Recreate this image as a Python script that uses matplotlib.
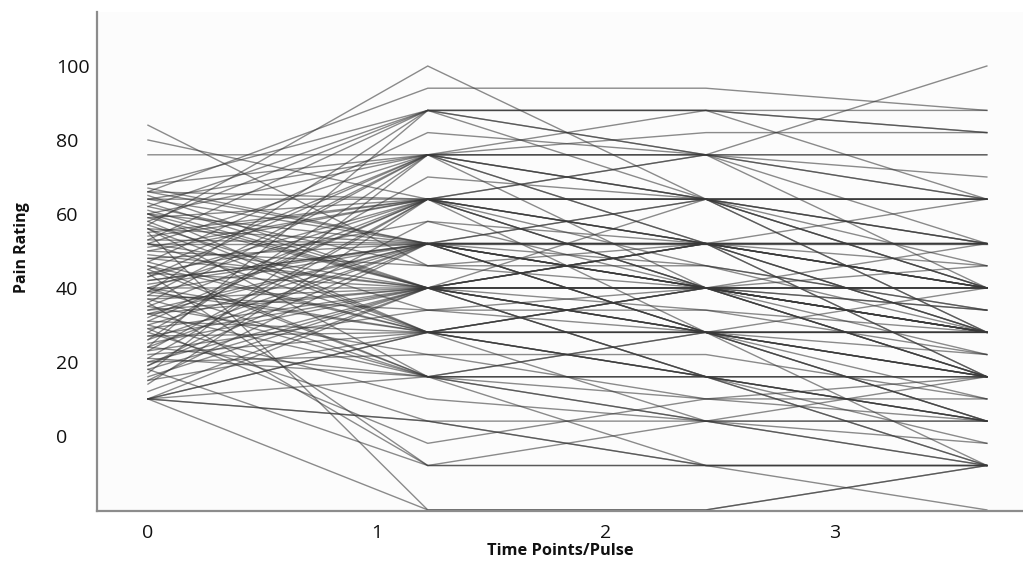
import matplotlib
matplotlib.use("Agg")
import matplotlib.pyplot as plt

# pain rating of each subject at the four time points (one entry per subject)
PAIN_T0 = [84, 80, 76, 68, 68, 67, 66, 66, 64, 64,
           64, 63, 62, 60, 60, 60, 59, 59, 57, 56,
           56, 55, 55, 53, 52, 52, 52, 52, 50, 50,
           48, 48, 47, 46, 44, 44, 44, 43, 43, 41,
           40, 40, 40, 40, 39, 39, 38, 37, 36, 36,
           35, 34, 33, 33, 32, 31, 30, 30, 29, 28,
           28, 27, 26, 25, 24, 24, 23, 23, 22, 21,
           20, 19, 19, 18, 17, 16, 15, 14, 10, 10,
           10, 10, 10, 10, 65, 58, 54, 49, 45, 42,
           38, 34, 31, 26, 20, 62, 57, 47, 35, 12,
           29, 45, 53, 61, 37, 66, 60, 56, 51, 46,
           42, 39, 33, 27, 24, 21, 18, 15, 10, 58]
PAIN_T1 = [46, 64, 76, 88, 76, 52, 94, 64, 76, 64,
           52, 40, 88, 76, 52, 28, 64, 40, 100, 52,
           16, -20, 64, 52, 52, 40, 76, 28, 46, 64,
           40, 52, 82, 28, 40, 58, -8, 64, 76, 52,
           40, 28, 64, 16, 52, 88, 34, 40, -8, 76,
           22, 52, 40, 16, 64, 28, 10, 52, 40, 70,
           4, 28, 76, 40, 88, 52, 34, 64, 28, 16,
           40, 52, 58, -8, 76, 40, 28, 64, 4, 4,
           -20, 16, 40, 28, 40, 28, 64, 40, 16, 52,
           76, 40, 64, 52, 22, 46, 34, 28, 64, 40,
           -2, 76, 88, 40, 16, 52, 40, 28, 64, 16,
           52, 28, 52, 40, 16, 64, 40, 52, 28, 88]
PAIN_T2 = [40, 52, 76, 88, 82, 40, 94, 64, 64, 52,
           52, 28, 88, 76, 40, 28, 64, 40, 64, 52,
           4, -20, 40, 28, 52, 40, 64, 16, 46, 76,
           28, 40, 76, 16, 40, 52, -8, 52, 88, 64,
           52, 28, 64, 16, 28, 76, 34, 16, -8, 52,
           22, 40, 28, 28, 40, 40, 4, 52, 40, 64,
           -8, 16, 40, 52, 64, 28, 28, 28, 4, 16,
           16, 64, 40, 4, 52, 64, 40, 46, 4, -8,
           -20, 10, 28, 16, 16, 40, 76, 52, 28, 46,
           64, 34, 52, 40, 10, 52, 40, 28, 64, 40,
           10, 76, 76, 52, -8, 52, 40, 28, 64, 16,
           28, 40, 40, 52, 4, 40, 28, 52, 28, 88]
PAIN_T3 = [28, 40, 70, 88, 82, 28, 88, 64, 52, 40,
           52, 16, 82, 64, 40, 16, 52, 28, 40, 40,
           -8, -8, 28, 16, 52, 40, 64, 4, 34, 100,
           28, 16, 52, 16, 40, 46, -8, 28, 82, 64,
           64, 28, 40, 4, 4, 64, 22, -8, -20, 40,
           10, 28, 16, 40, 16, 52, -8, 28, 16, 52,
           -8, -8, 16, 40, 28, 28, 4, -8, -2, 16,
           4, 46, 22, 16, 28, 40, 28, 34, 4, -8,
           -8, 4, 10, -2, 16, 34, 76, 52, 22, 28,
           64, 28, 52, 34, 10, 40, 46, 4, 28, 40,
           16, 40, 76, 16, -8, 52, 40, 28, 64, 4,
           28, 28, 40, 52, 4, 28, 28, 16, 16, 64]

TIME_X = [0, 1.222, 2.437, 3.664]
X_TICKS = [0, 1, 2, 3]
Y_TICKS = [0, 20, 40, 60, 80, 100]

fig = plt.figure(figsize=(10.23, 5.61), dpi=100)
ax = fig.add_axes([0.0948, 0.0891, 0.905, 0.8895])
ax.set_facecolor("#fcfcfc")

for subj in zip(PAIN_T0, PAIN_T1, PAIN_T2, PAIN_T3):
    ax.plot(TIME_X, subj, color="#383838", alpha=0.58, lw=1.0,
            solid_joinstyle="miter")

ax.set_xlim(-0.2227, 3.821)
ax.set_ylim(-20.3, 114.6)
ax.set_xticks(X_TICKS)
ax.set_yticks(Y_TICKS)

for side in ("top", "right"):
    ax.spines[side].set_visible(False)
for side in ("left", "bottom"):
    ax.spines[side].set_color("#8c8c8c")
    ax.spines[side].set_linewidth(1.6)

ax.tick_params(axis="both", length=0, labelsize=14, labelcolor="#111111")
ax.tick_params(axis="y", pad=29.5)
ax.tick_params(axis="x", pad=9)
for lbl in ax.get_yticklabels() + ax.get_xticklabels():
    lbl.set_fontfamily("Open Sans")
for lbl in ax.get_yticklabels():
    lbl.set_horizontalalignment("left")

ax.set_xlabel("Time Points/Pulse", fontfamily="Open Sans", fontweight="bold",
              fontsize=11.8, labelpad=1, color="#111111")
fig.text(22 / 1023, 1 - 248 / 561, "Pain Rating", rotation=90,
         fontfamily="Open Sans", fontweight="bold", fontsize=11.5,
         color="#111111", ha="center", va="center")

fig.savefig("out.png", dpi=100)
